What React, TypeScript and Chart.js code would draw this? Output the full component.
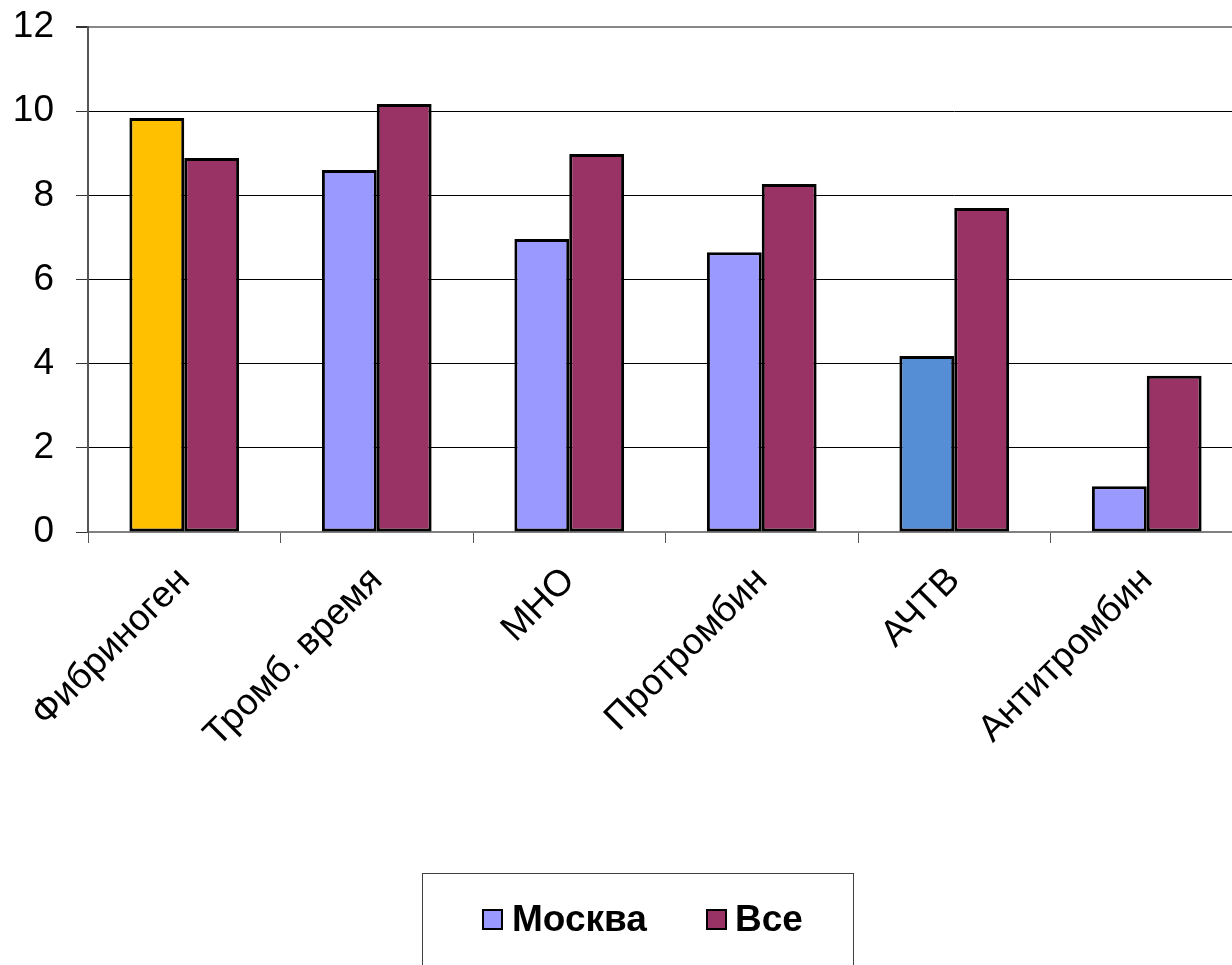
import React, { useEffect, useRef } from "react";
import { Chart, registerables } from "chart.js";

Chart.register(...registerables);

const categories = ["Фибриноген", "Тромб. время", "МНО", "Протромбин", "АЧТВ", "Антитромбин"];
const moscowValues = [9.84, 8.6, 6.96, 6.65, 4.18, 1.09];
const allValues = [8.89, 10.17, 8.98, 8.27, 7.7, 3.71];
const moscowColors = ["#FFC000", "#9999FF", "#9999FF", "#9999FF", "#558ED5", "#9999FF"];
const seriesNames = ["Москва", "Все"];
const seriesColors = ["#9999FF", "#993366"];
const yTicks = [0, 2, 4, 6, 8, 10, 12];

const FONT = "'Liberation Sans', Arial, sans-serif";

const legendPlugin = {
  id: "framedLegend",
  afterDraw(chart: any) {
    const ctx = chart.ctx;
    ctx.save();
    ctx.strokeStyle = "#404040";
    ctx.lineWidth = 1;
    ctx.strokeRect(422.5, 873.5, 431, 200);
    const items = [
      { x: 483, tx: 512 },
      { x: 707, tx: 735 },
    ];
    ctx.font = `bold 37px ${FONT}`;
    ctx.textBaseline = "middle";
    ctx.textAlign = "left";
    items.forEach((it, i) => {
      ctx.fillStyle = seriesColors[i];
      ctx.fillRect(it.x, 910, 19, 19);
      ctx.strokeStyle = "#000";
      ctx.lineWidth = 2;
      ctx.strokeRect(it.x, 910, 19, 19);
      ctx.fillStyle = "#000";
      ctx.fillText(seriesNames[i], it.tx, 921);
    });
    ctx.restore();
  },
};

export default function App() {
  const ref = useRef<HTMLCanvasElement | null>(null);

  useEffect(() => {
    document.body.style.margin = "0";
    document.body.style.overflow = "hidden";
    const chart = new Chart(ref.current as HTMLCanvasElement, {
      type: "bar",
      data: {
        labels: categories,
        datasets: [
          {
            label: seriesNames[0],
            data: moscowValues,
            backgroundColor: moscowColors,
            borderColor: "#000",
            borderWidth: 3,
            borderSkipped: false,
          },
          {
            label: seriesNames[1],
            data: allValues,
            backgroundColor: seriesColors[1],
            borderColor: "#000",
            borderWidth: 3,
            borderSkipped: false,
          },
        ],
      },
      options: {
        animation: false,
        responsive: true,
        maintainAspectRatio: false,
        layout: { padding: { top: 27, right: 0, left: 0, bottom: 0 } },
        datasets: { bar: { categoryPercentage: 0.57, barPercentage: 1.0 } },
        plugins: { legend: { display: false }, tooltip: { enabled: false } },
        scales: {
          x: {
            grid: { drawOnChartArea: false, drawTicks: true, tickLength: 11, color: "#555", offset: true },
            border: { color: "#808080", width: 2 },
            ticks: {
              minRotation: 45,
              maxRotation: 45,
              color: "#000",
              padding: 16,
              font: { family: FONT, size: 37 },
            },
            afterFit: (s: any) => {
              s.height = 433;
              s.paddingLeft = 0;
              s.paddingRight = 0;
            },
          },
          y: {
            min: 0,
            max: 12,
            afterBuildTicks: (s: any) => {
              s.ticks = yTicks.map((v) => ({ value: v }));
            },
            grid: {
              color: (c: any) => (c.tick && c.tick.value === 12 ? "#888" : "#000"),
              lineWidth: (c: any) => (c.tick && c.tick.value === 12 ? 2 : 1),
              tickColor: "#333",
              tickLength: 12,
            },
            border: { color: "#555", width: 2 },
            ticks: {
              color: "#000",
              padding: 22,
              font: { family: FONT, size: 37 },
            },
            afterFit: (s: any) => {
              s.width = 88;
              s.paddingTop = 0;
              s.paddingBottom = 0;
            },
          },
        },
      },
      plugins: [legendPlugin],
    });
    return () => chart.destroy();
  }, []);

  return (
    <div style={{ width: "1243px", height: "965px", position: "relative" }}>
      <canvas ref={ref} />
    </div>
  );
}
